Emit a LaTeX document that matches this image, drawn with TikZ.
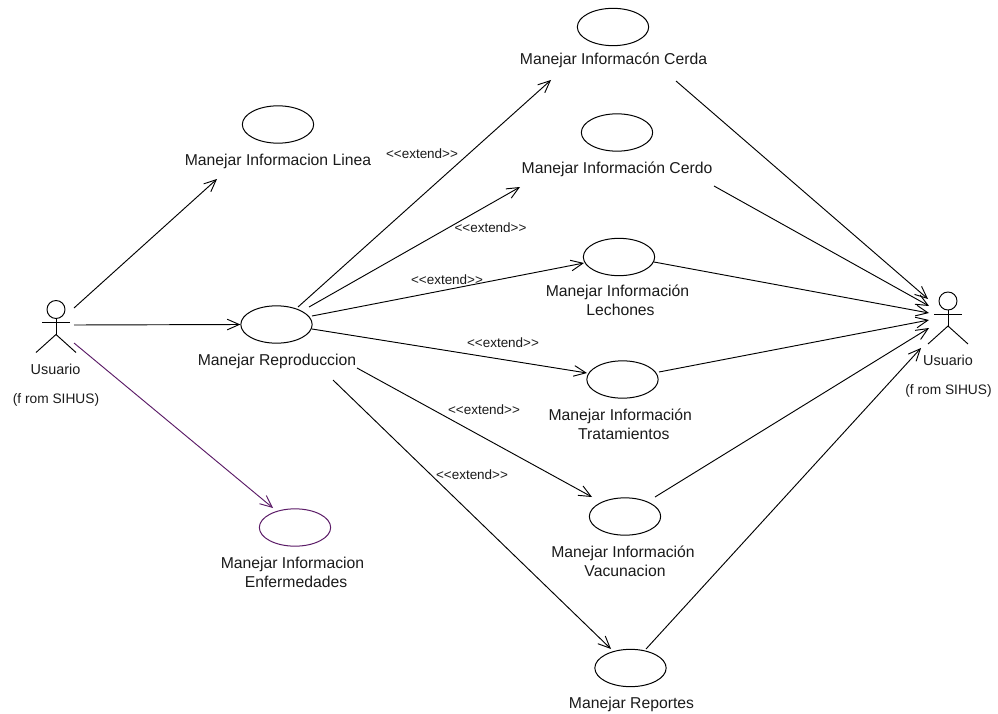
\documentclass[tikz,border=0pt]{standalone}
\usepackage{fontspec}
\setmainfont{Liberation Sans}
\usetikzlibrary{arrows.meta,shapes.geometric}
\definecolor{ink}{HTML}{1A1A1A}
\definecolor{plum}{HTML}{5A1A66}
\tikzset{
  x=0.75pt,y=-0.75pt,
  usecase/.style={draw=#1,line width=0.75pt,ellipse,inner sep=0pt,minimum width=53.5pt,minimum height=28pt},
  usecase/.default=black,
  lbl/.style={font=\fontsize{11.8}{14.25}\selectfont,text=ink,align=center,inner sep=0pt},
  actorlbl/.style={font=\fontsize{10.8}{14.25}\selectfont,text=ink,inner sep=0pt},
  stereo/.style={font=\fontsize{10.1}{12}\selectfont,text=ink,inner sep=0pt},
  fromlbl/.style={font=\fontsize{10.3}{12}\selectfont,text=ink,inner sep=0pt},
  link/.style={draw=#1,line width=0.7pt,-{Straight Barb[length=9pt,width=8pt,line width=0.7pt]}},
  link/.default=black,
  stick/.style={draw=black,line width=0.7pt}
}
\begin{document}
\begin{tikzpicture}
\useasboundingbox (0,0) rectangle (998,713);
% use cases
\node[usecase] (cerda) at (613,27) {};
\node[usecase] (cerdo) at (617,132.5) {};
\node[usecase] (lech) at (619,257) {};
\node[usecase] (trat) at (622.5,379.5) {};
\node[usecase] (vac) at (625,516.5) {};
\node[usecase] (rep) at (630.5,668) {};
\node[usecase] (lin) at (278,124.5) {};
\node[usecase] (repro) at (276.5,324.5) {};
\node[usecase=plum] (enf) at (295,527.5) {};
% use case labels
\node[lbl] (tcerda) at (613.5,60.5) {Manejar Informacón Cerda};
\node[lbl] (tcerdo) at (617,169) {Manejar Información Cerdo};
\node[lbl] (tlech) at (617.5,300.5) {Manejar Información\\\hspace*{4.5pt}Lechones};
\node[lbl] (ttrat) at (620.3,424.5) {Manejar Información\\\hspace*{5.25pt}Tratamientos};
\node[lbl] (tvac) at (623,561.5) {Manejar Información\\\hspace*{3pt}Vacunacion};
\node[lbl] (trep) at (631.5,704) {Manejar Reportes};
\node[lbl] (tlin) at (278,161) {Manejar Informacion Linea};
\node[lbl] (trepro) at (277,361) {Manejar Reproduccion};
\node[lbl] (tenf) at (292.5,572.5) {Manejar Informacion\\\hspace*{5.25pt}Enfermedades};
% actors
\coordinate (aL) at (56,309.5);
\coordinate (aR) at (948,301);
\foreach \a in {aL,aR}{
  \draw[stick] (\a) circle[radius=9];
  \draw[stick] ([yshift=-9*0.75pt]\a) -- ([yshift=-25*0.75pt]\a);
  \draw[stick] ([shift={(-14,13)}]\a) -- ([shift={(14,13)}]\a);
  \draw[stick] ([shift={(-20,43)}]\a) -- ([yshift=-25*0.75pt]\a) -- ([shift={(20,43)}]\a);
}
\node[actorlbl] (uL) at (55.5,369.5) {Usuario};
\node[fromlbl] (fL) at (56,400) {(f rom SIHUS)};
\node[actorlbl] (uR) at (948,360) {Usuario};
\node[fromlbl] (fR) at (948.5,391) {(f rom SIHUS)};
% connector ends
\coordinate (s1) at (74,308); \coordinate (s2) at (74,325); \coordinate (s3) at (74,343);
\coordinate (e1) at (217,179); \coordinate (e3) at (273,508);
\coordinate (r1) at (298,307); \coordinate (r2) at (309,307); \coordinate (r3) at (312,316);
\coordinate (r4) at (312,329); \coordinate (r5) at (357,368); \coordinate (r6) at (333,380);
\coordinate (c1) at (551,80); \coordinate (c2) at (520,187); \coordinate (c3) at (584,263);
\coordinate (c4) at (587,373); \coordinate (c5) at (592,497); \coordinate (c6) at (611,649);
\coordinate (o1) at (676,81); \coordinate (o2) at (714,186); \coordinate (o3) at (654,262);
\coordinate (o4) at (659,372); \coordinate (o5) at (655,497); \coordinate (o6) at (646,649);
\coordinate (p1) at (928,299); \coordinate (p2) at (929,306); \coordinate (p3) at (929,313);
\coordinate (p4) at (929,320); \coordinate (p5) at (929,328); \coordinate (p6) at (921,348);
% connectors
\draw[link] (s1) -- (e1);
\draw[link] (s2) -- (repro.west);
\draw[link=plum] (s3) -- (e3);
\foreach \i in {1,...,6}{
  \draw[link] (r\i) -- (c\i);
  \draw[link] (o\i) -- (p\i);
}
% stereotypes
\node[stereo] (x1) at (422,153.5) {<{}<extend>{}>};
\node[stereo] (x2) at (490.5,227.5) {<{}<extend>{}>};
\node[stereo] (x3) at (447,279.5) {<{}<extend>{}>};
\node[stereo] (x4) at (503,342.5) {<{}<extend>{}>};
\node[stereo] (x5) at (484,409.5) {<{}<extend>{}>};
\node[stereo] (x6) at (472,474.5) {<{}<extend>{}>};
\end{tikzpicture}
\end{document}
